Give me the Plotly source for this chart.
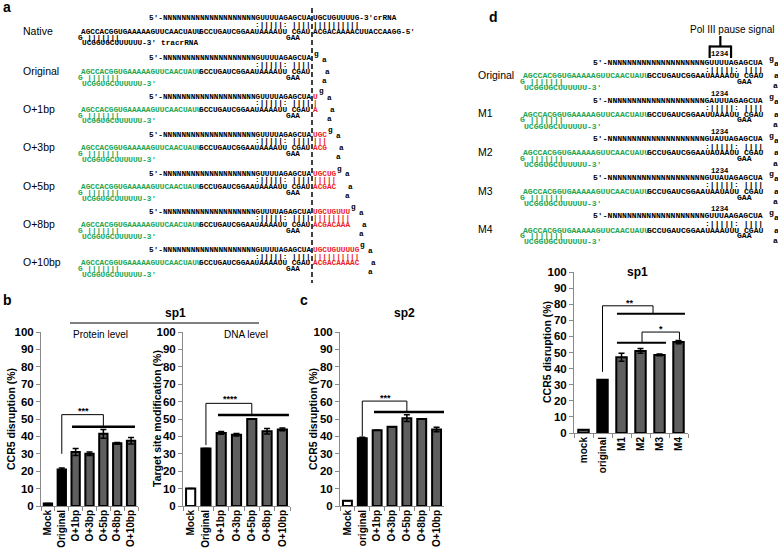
import plotly.graph_objects as go

W, H = 778, 548
def X(px): return px / W
def Y(py): return 1 - py / H

# ---------------- data ----------------
b_cats = ["Mock", "Original", "O+1bp", "O+3bp", "O+5bp", "O+8bp", "O+10bp"]
protein_vals = [1.5, 21, 31, 30, 41.5, 36, 37.5]
protein_err = [0, 0.8, 2, 1, 2.5, 0.5, 1.8]
dna_vals = [10, 33, 42, 41, 50, 43, 44]
dna_err = [0, 0, 0.8, 0.7, 0, 1.6, 0.8]
c_cats = ["Mock", "original", "O+1bp", "O+3bp", "O+5bp", "O+8bp", "O+10bp"]
sp2_vals = [3, 39, 43.5, 45.5, 50.5, 50, 44]
sp2_err = [0, 0.5, 0, 0, 2, 0, 1.3]
d_cats = ["mock", "original", "M1", "M2", "M3", "M4"]
d_vals = [2, 33, 47, 51, 48.5, 56.5]
d_err = [0, 0, 2.5, 1.5, 0.5, 1]

a_rows = ["Native", "Original", "O+1bp", "O+3bp", "O+5bp", "O+8bp", "O+10bp"]
a_ext = [10, 0, 1, 3, 5, 8, 10]
crRNA_head = "5'-NNNNNNNNNNNNNNNNNNNN"
stem_top = "GUUUUAGAGCUA"
stem_pair = ":|||||:\u00a0||||"
tracr_green = "AGCCACGGUGAAAAAGUUCAACUAUU"
tracr_black = "GCCUGAUCGGAAUAAAAUU\u00a0CGAU"
crRNA_ext = "UGCUGUUUUG"
tracr_ext = "ACGACAAAAC"
tracr_tail = "UCGGUGCUUUUUU-3'"
hairpin = "G\u00a0|||||||"

d_rows = ["Original", "M1", "M2", "M3", "M4"]
d_stem_top = ["GUUUUAGAGCUA", "GAUUUAGAGCUA", "GUAUUAGAGCUA", "GUUAUAGAGCUA", "GUUUAAGAGCUA"]
d_tracr_black = ["GCCUGAUCGGAAUAAAAUU\u00a0CGAU", "GCCUGAUCGGAAUUAAAUU\u00a0CGAU",
                 "GCCUGAUCGGAAUAUAAUU\u00a0CGAU", "GCCUGAUCGGAAUAAUAUU\u00a0CGAU",
                 "GCCUGAUCGGAAUAAAUUU\u00a0CGAU"]

GREEN = "#22a552"
RED = "#ee1c25"
GRAY = "#5f5f5f"
SANS = "Liberation Sans"
MONO = "Liberation Mono"

fig = go.Figure()

def add_bars(cats, vals, errs, colors, ax, width):
    fig.add_trace(go.Bar(
        x=cats, y=vals, xaxis="x" + ax, yaxis="y" + ax, width=width,
        marker=dict(color=colors, line=dict(color="black", width=2)),
        error_y=dict(type="data", array=errs, color="black", thickness=1.5, width=3),
        showlegend=False, hoverinfo="skip"))

add_bars(b_cats, protein_vals, protein_err, ["black", "black"] + [GRAY] * 5, "", 0.6)
add_bars(b_cats, dna_vals, dna_err, ["white", "black"] + [GRAY] * 5, "2", 0.6)
add_bars(c_cats, sp2_vals, sp2_err, ["white", "black"] + [GRAY] * 5, "3", 0.6)
add_bars(d_cats, d_vals, d_err, [GRAY, "black"] + [GRAY] * 4, "4", 0.55)

ytickf = dict(family=SANS, size=11.5, color="black", weight="bold")
xtickf = dict(family=SANS, size=10, color="black", weight="bold")
def yax(dom):
    return dict(domain=dom, range=[0, 100], dtick=10, showline=True, linecolor="#8a8a8a",
                linewidth=1, ticks="outside", ticklen=4, tickcolor="#8a8a8a", showgrid=False,
                zeroline=False, tickfont=ytickf, automargin=False, fixedrange=True)
def xax(dom, anchor, n):
    return dict(domain=dom, anchor=anchor, type="category", range=[-0.5, n - 0.5], showline=True,
                linecolor="#8a8a8a", linewidth=1, ticks="outside", ticklen=4, tickcolor="#8a8a8a",
                tickson="boundaries", tickangle=-90, showgrid=False, tickfont=xtickf,
                ticklabelstandoff=-1, automargin=False, fixedrange=True)

ybc = [Y(506), Y(332)]
yd = [Y(433), Y(272)]
layout = dict(
    width=W, height=H, margin=dict(l=0, r=0, t=0, b=0), template="none",
    paper_bgcolor="white", plot_bgcolor="rgba(0,0,0,0)",
    xaxis=xax([X(41), X(138)], "y", 7), yaxis=dict(yax(ybc), anchor="x"),
    xaxis2=xax([X(183), X(290)], "y2", 7), yaxis2=dict(yax(ybc), anchor="x2"),
    xaxis3=xax([X(340), X(444)], "y3", 7), yaxis3=dict(yax(ybc), anchor="x3"),
    xaxis4=xax([X(574), X(688)], "y4", 6), yaxis4=dict(yax(yd), anchor="x4"),
)
fig.update_layout(**layout)

ann = []
shapes = []

def txt(x, y, s, size=10, color="black", family=SANS, anchor="left",
        weight="normal", angle=0, xref="paper", yref="paper"):
    ann.append(dict(x=x, y=y, xref=xref, yref=yref, text=s, showarrow=False, xanchor=anchor,
                    yanchor="middle", textangle=angle, borderpad=0,
                    font=dict(family=family, size=size, color=color, weight=weight)))

def seq(x, y, s, size, color="black", anchor="left"):
    txt(x, y, s, size=size, color=color, family=MONO, anchor=anchor, weight="bold")

def line(x0, y0, x1, y1, w=1, color="black", xref="paper", yref="paper", dash=None):
    d = dict(type="line", x0=x0, y0=y0, x1=x1, y1=y1, xref=xref, yref=yref,
             line=dict(color=color, width=w))
    if dash:
        d["line"]["dash"] = dash
    shapes.append(d)

# ---------------- panel labels ----------------
for lab, (px, py) in {"a": (2, 7), "b": (2, 300), "c": (299, 300), "d": (488, 17)}.items():
    txt(X(px), Y(py), lab, size=14, weight="bold")

# ---------------- panel a sequences ----------------
end_a, cw_a = 312, 4.64
fs_a = cw_a / 0.6
a_L3 = [32, 72, 110, 148, 187, 225, 263]
for i, (name, n, y3) in enumerate(zip(a_rows, a_ext, a_L3)):
    y1 = y3 - 13.5
    txt(X(22), Y(y3 - 1), name, size=10.5)
    seq(X(end_a), Y(y1), crRNA_head + stem_top, fs_a, anchor="right")
    seq(X(end_a), Y(y3 - 6.5), stem_pair, fs_a, anchor="right")
    gcol = "black" if i == 0 else GREEN
    seq(X(80), Y(y3), tracr_green, fs_a, color=gcol)
    seq(X(end_a), Y(y3), tracr_black, fs_a, anchor="right")
    seq(X(77), Y(y3 + 5.5), hairpin, fs_a, color=gcol)
    seq(X(end_a - 5.8 * cw_a), Y(y3 + 5.5), "GAA", fs_a)
    seq(X(81), Y(y3 + 11.5), tracr_tail, fs_a, color=gcol)
    if i == 0:
        seq(X(end_a), Y(y1), crRNA_ext + "-3'crRNA", fs_a)
        seq(X(end_a), Y(y3 - 6.5), "|" * 10, fs_a)
        seq(X(end_a), Y(y3), tracr_ext + "UUACCAAGG-5'", fs_a)
        seq(X(81 + 17 * cw_a), Y(y3 + 11.5), "tracrRNA", fs_a)
    else:
        xe = end_a + n * cw_a
        if n:
            seq(X(end_a), Y(y1), crRNA_ext[:n], fs_a, color=RED)
            seq(X(end_a), Y(y3 - 6.5), "|" * n, fs_a, color=RED)
            seq(X(end_a), Y(y3), tracr_ext[:n], fs_a, color=RED)
        seq(X(xe + 1), Y(y1 - 5), "g", fs_a)
        seq(X(xe + 9), Y(y1 + 1), "a", fs_a)
        seq(X(xe + 12), Y(y3), "a", fs_a)
        seq(X(xe + 9), Y(y3 + 9), "a", fs_a)
line(X(end_a), Y(8), X(end_a), Y(283), w=1.5, dash="5px,3px")

# ---------------- panel d sequences ----------------
end_d, cw_d = 764, 4.85
fs_d = cw_d / 0.6
d_L3 = [76, 114.5, 153, 191.5, 230]
for i, (name, y3) in enumerate(zip(d_rows, d_L3)):
    y1 = y3 - 14
    txt(X(477), Y(y3 - 1), name, size=10.5)
    seq(X(end_d), Y(y1), crRNA_head + d_stem_top[i], fs_d, anchor="right")
    seq(X(end_d - 9 * cw_d), Y(y1 - 8 if i == 0 else y1 - 7), "1234", fs_d * 0.9, anchor="center")
    seq(X(end_d), Y(y3 - 7), stem_pair, fs_d, anchor="right")
    seq(X(end_d - 50 * cw_d), Y(y3), tracr_green, fs_d, color=GREEN)
    seq(X(end_d), Y(y3), d_tracr_black[i], fs_d, anchor="right")
    seq(X(end_d - 50 * cw_d - 3), Y(y3 + 5.5), hairpin, fs_d, color=GREEN)
    seq(X(end_d - 5.8 * cw_d), Y(y3 + 5.5), "GAA", fs_d)
    seq(X(end_d - 50 * cw_d + 1), Y(y3 + 11.5), tracr_tail, fs_d, color=GREEN)
    seq(X(end_d + 4), Y(y1 - 4), "g", fs_d)
    seq(X(end_d + 9), Y(y1 + 1), "a", fs_d)
    seq(X(end_d + 9), Y(y3), "a", fs_d)
    seq(X(end_d + 8), Y(y3 + 10), "a", fs_d)

bx0, bx1 = end_d - 11 * cw_d - 1, end_d - 7 * cw_d + 1
bt, bb = 46.5, 58
line(X(bx0), Y(bt), X(bx1), Y(bt), w=2.2)
line(X(bx0), Y(bt - 1), X(bx0), Y(bb), w=2.2)
line(X(bx1), Y(bt - 1), X(bx1), Y(bb), w=2.2)
line(X((bx0 + bx1) / 2), Y(bt), X((bx0 + bx1) / 2), Y(36), w=2.2)
txt(X(732), Y(29), "Pol III pause signal", size=10, anchor="center")

# ---------------- bar panel headers & titles ----------------
txt(X(175), Y(313), "sp1", size=12, weight="bold", anchor="center")
line(X(70), Y(323), X(259), Y(323), w=1.2)
txt(X(100), Y(334), "Protein level", size=10, anchor="center")
txt(X(246), Y(334), "DNA level", size=10, anchor="center")
txt(X(404), Y(313), "sp2", size=12, weight="bold", anchor="center")
txt(X(637), Y(272), "sp1", size=12, weight="bold", anchor="center")

txt(X(11), Y(419), "CCR5 disruption (%)", size=10.5, weight="bold", angle=-90, anchor="center")
txt(X(157), Y(419), "Target site modification (%)", size=10.5, weight="bold", angle=-90, anchor="center")
txt(X(313), Y(419), "CCR5 disruption (%)", size=10.5, weight="bold", angle=-90, anchor="center")
txt(X(547), Y(352), "CCR5 disruption (%)", size=10.5, weight="bold", angle=-90, anchor="center")

# ---------------- significance brackets ----------------
def bracket(ax, xl, xr, ytop, yleg_l, yleg_r, bar_x0, bar_x1, bar_y, label, lx, ly, thick=2.5):
    xr_, yr_ = "x" + ax, "y" + ax
    line(xl, yleg_l, xl, ytop, w=1, xref=xr_, yref=yr_)
    line(xl, ytop, xr, ytop, w=1, xref=xr_, yref=yr_)
    line(xr, ytop, xr, yleg_r, w=1, xref=xr_, yref=yr_)
    line(bar_x0, bar_y, bar_x1, bar_y, w=thick, xref=xr_, yref=yr_)
    txt(lx, ly, label, size=9, weight="bold", anchor="center", xref=xr_, yref=yr_)

bracket("", 1, 4, 52.5, 30, 45.5, 1.74, 6.28, 45.5, "***", 2.55, 54.5)
bracket("2", 1, 4, 59, 35, 52.3, 1.79, 6.43, 52.3, "****", 2.6, 61.5)
bracket("3", 1, 4, 60.3, 40, 54, 1.79, 6.5, 54, "***", 2.55, 62.3)
bracket("4", 1, 3.66, 79, 38, 74, 1.76, 5.34, 74, "**", 2.45, 81, thick=2)
bracket("4", 3.08, 5.05, 62.7, 56, 58, 1.76, 4.34, 56, "*", 4.08, 64.8, thick=2)

fig.update_layout(annotations=ann, shapes=shapes)
fig.write_html("out.html", config={"displayModeBar": False},
               post_script="document.body.style.margin='0';document.body.style.padding='0';")
